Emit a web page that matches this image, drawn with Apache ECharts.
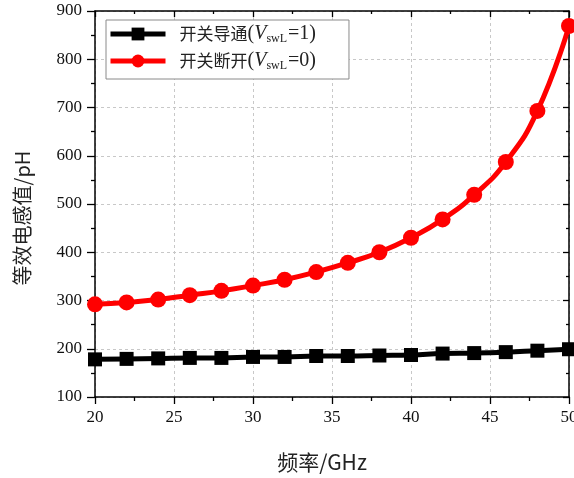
<!DOCTYPE html>
<html><head><meta charset="utf-8">
<script src="https://cdn.jsdelivr.net/npm/echarts@6/dist/echarts.min.js"></script>
<style>html,body{margin:0;padding:0;background:#fff}#c{width:574px;height:478px}</style>
</head><body><div id="c"></div>
<script>
const freq = [20,22,24,26,28,30,32,34,36,38,40,42,44,46,48,50];
const onValues = [178,179,180,181,181,183,183,185,185,186,187,190,191,193,196,199];
const offValues = [292,296,302,311,320,331,343,359,378,400,430,468,519,587,693,869];
const xTicks = {min:20, max:50, interval:5};
const yTicks = {min:100, max:900, interval:100};
const onName = '开关导通';
const offName = '开关断开';
const onState = '1';
const offState = '0';

const serif = 'Liberation Serif, Times New Roman, serif';
const cjk = 'Noto Sans CJK SC';
const pair = (xs, ys) => xs.map((x,i)=>[x, ys[i]]);

const chart = echarts.init(document.getElementById('c'));
const baseX = {type:'value', min:xTicks.min, max:xTicks.max, interval:xTicks.interval};
const baseY = {type:'value', min:yTicks.min, max:yTicks.max, interval:yTicks.interval};
chart.setOption({
  animation:false,
  grid:{left:95, right:5, top:11, bottom:81, containLabel:false, outerBoundsMode:'none'},
  legend:{
    orient:'vertical', left:106, top:20,
    padding:[4,33,7,2], itemGap:6, itemWidth:55, itemHeight:16,
    borderColor:'#8a8a8a', borderWidth:1, backgroundColor:'#fff',
    lineStyle:{width:5},
    data:[onName, offName],
    formatter:function(n){
      const st = n===onName ? onState : offState;
      return '{t|'+n+'}{p|(}{v|V}{s|swL}{p|='+st+')}';
    },
    textStyle:{color:'#111', rich:{
      t:{fontFamily:cjk, fontSize:17, color:'#222', lineHeight:22, padding:[0,0,0,9]},
      p:{fontFamily:serif, fontSize:20, color:'#222', lineHeight:22},
      v:{fontFamily:serif, fontSize:20, fontStyle:'italic', color:'#222', lineHeight:22},
      s:{fontFamily:serif, fontSize:12, color:'#222', padding:[10,1,0,0]}
    }}
  },
  xAxis:[
    Object.assign({}, baseX, {position:'bottom',
      name:'频率/GHz', nameLocation:'middle', nameGap:55,
      nameTextStyle:{fontFamily:cjk+', '+serif, fontSize:21, color:'#222', padding:[0,20,0,0]},
      axisLine:{show:true, lineStyle:{color:'#000', width:1.5}},
      axisTick:{show:true, inside:false, length:7, lineStyle:{color:'#000', width:1.3}},
      minorTick:{show:true, splitNumber:2, length:4, lineStyle:{color:'#000', width:1.3}},
      axisLabel:{fontFamily:serif, fontSize:17, color:'#111', margin:12},
      splitLine:{show:true, lineStyle:{color:'#c8c8c8', type:[3,3], width:1}}
    }),
    Object.assign({}, baseX, {position:'top',
      axisLine:{show:true, lineStyle:{color:'#000', width:1.5}},
      axisTick:{show:true, inside:true, length:6, lineStyle:{color:'#000', width:1.3}},
      minorTick:{show:true, splitNumber:2, length:3, lineStyle:{color:'#000', width:1.3}},
      axisLabel:{show:false}, splitLine:{show:false}
    })
  ],
  yAxis:[
    Object.assign({}, baseY, {position:'left',
      name:'等效电感值/pH', nameLocation:'middle', nameGap:63,
      nameTextStyle:{fontFamily:cjk+', '+serif, fontSize:20, color:'#222', padding:[0,28,0,0]},
      axisLine:{show:true, lineStyle:{color:'#000', width:1.5}},
      axisTick:{show:true, inside:false, length:8, lineStyle:{color:'#000', width:1.3}},
      minorTick:{show:true, splitNumber:2, length:4, lineStyle:{color:'#000', width:1.3}},
      axisLabel:{fontFamily:serif, fontSize:17, color:'#111', margin:13},
      splitLine:{show:true, lineStyle:{color:'#c8c8c8', type:[3,3], width:1}}
    }),
    Object.assign({}, baseY, {position:'right',
      axisLine:{show:true, lineStyle:{color:'#000', width:1.5}},
      axisTick:{show:true, inside:true, length:6, lineStyle:{color:'#000', width:1.3}},
      minorTick:{show:true, splitNumber:2, length:3, lineStyle:{color:'#000', width:1.3}},
      axisLabel:{show:false}, splitLine:{show:false}
    })
  ],
  series:[
    {name:onName, type:'line', xAxisIndex:0, yAxisIndex:0, data:pair(freq,onValues),
     smooth:true, symbol:'rect', symbolSize:14, showAllSymbol:true,
     lineStyle:{color:'#000', width:5}, itemStyle:{color:'#000'}, z:3},
    {name:offName, type:'line', xAxisIndex:0, yAxisIndex:0, data:pair(freq,offValues),
     smooth:true, symbol:'circle', symbolSize:16, showAllSymbol:true,
     lineStyle:{color:'#ff0000', width:5}, itemStyle:{color:'#ff0000'}, z:4}
  ]
});
</script></body></html>
